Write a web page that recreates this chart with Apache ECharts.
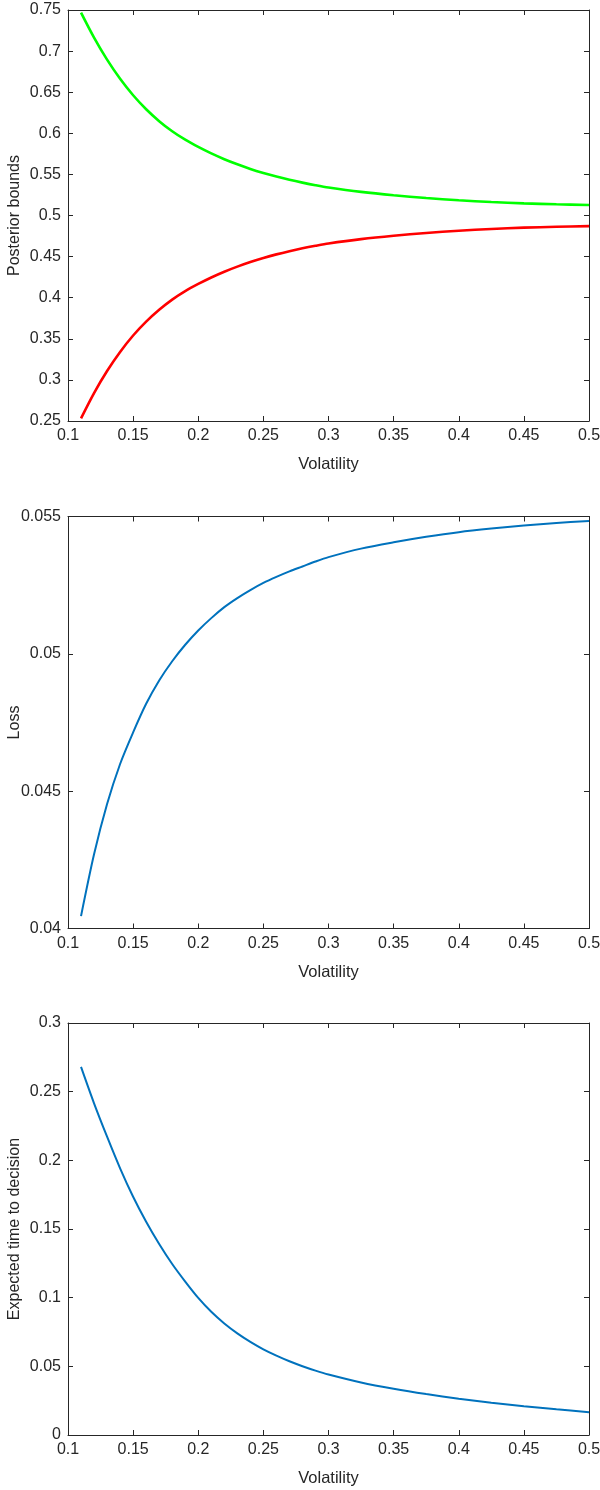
<!DOCTYPE html>
<html>
<head>
<meta charset="utf-8">
<script src="https://cdn.jsdelivr.net/npm/echarts@6/dist/echarts.min.js"></script>
<style>html,body{margin:0;padding:0;background:#fff;}#c{width:600px;height:1490px;}</style>
</head>
<body>
<div id="c"></div>
<script>
const volatility = [0.11,0.12,0.13,0.14,0.15,0.16,0.17,0.18,0.19,0.20,0.21,0.22,0.23,0.24,0.25,0.26,0.27,0.28,0.29,0.30,0.325,0.35,0.375,0.40,0.425,0.45,0.475,0.50];
const upperBound = [0.7468,0.7164,0.6896,0.6663,0.6463,0.6293,0.6148,0.6025,0.5922,0.5834,0.5755,0.5685,0.5623,0.5567,0.5518,0.5474,0.5435,0.5400,0.5368,0.5340,0.5287,0.5246,0.5213,0.5185,0.5164,0.5148,0.5136,0.5128];
const lowerBound = [0.2532,0.2840,0.3108,0.3340,0.3540,0.3709,0.3853,0.3977,0.4080,0.4167,0.4246,0.4316,0.4378,0.4434,0.4483,0.4527,0.4566,0.4601,0.4632,0.4660,0.4713,0.4754,0.4787,0.4815,0.4836,0.4852,0.4863,0.4871];
const loss = [0.04045,0.0427,0.04453,0.04599,0.04714,0.04818,0.04903,0.04973,0.05033,0.05085,0.0513,0.0517,0.05203,0.05232,0.05258,0.0528,0.053,0.05318,0.05336,0.05352,0.05383,0.05406,0.05426,0.05443,0.05456,0.05467,0.05476,0.05484];
const timeToDecision = [0.268,0.2415,0.2172,0.1942,0.1735,0.1553,0.1391,0.1245,0.1117,0.0998,0.0897,0.0812,0.0740,0.0678,0.0624,0.0578,0.0537,0.0501,0.0469,0.0441,0.0383,0.0337,0.0298,0.0264,0.0235,0.0210,0.0187,0.0166];
const xTicks = {min:0.1, max:0.5, interval:0.05};
const yLabels = ['Posterior bounds','Loss','Expected time to decision'];
const xLabel = 'Volatility';

const pairs = arr => volatility.map((v,i)=>[v,arr[i]]);
const axisCol = '#262626';
const FF = 'Liberation Sans, Arial, sans-serif';
const tickFont = {fontFamily:FF, fontSize:16, color:axisCol};
const grids = [
  {left:68, right:11, top:10, height:411, containLabel:false, outerBoundsMode:'none'},
  {left:68, right:11, top:516.5, height:412, containLabel:false, outerBoundsMode:'none'},
  {left:68, right:11, top:1023, height:412, containLabel:false, outerBoundsMode:'none'}
];
const yRanges = [
  {min:0.25, max:0.75, interval:0.05},
  {min:0.04, max:0.055, interval:0.005},
  {min:0, max:0.3, interval:0.05}
];
const xAxes = [], yAxes = [];
grids.forEach((g,i)=>{
  xAxes.push({type:'value', gridIndex:i, position:'bottom', min:xTicks.min, max:xTicks.max, interval:xTicks.interval,
    name:xLabel, nameLocation:'middle', nameGap:35, nameMoveOverlap:false,
    nameTextStyle:{fontFamily:FF, fontSize:16.5, color:axisCol},
    axisLine:{show:true, onZero:false, lineStyle:{color:axisCol, width:1}},
    axisTick:{show:true, inside:true, length:5, lineStyle:{color:axisCol}},
    axisLabel:Object.assign({margin:7, hideOverlap:false, formatter:v=>String(+v.toFixed(2))}, tickFont),
    splitLine:{show:false}});
  xAxes.push({type:'value', gridIndex:i, position:'top', min:xTicks.min, max:xTicks.max, interval:xTicks.interval,
    axisLine:{show:true, onZero:false, lineStyle:{color:axisCol, width:1}},
    axisTick:{show:true, inside:true, length:5, lineStyle:{color:axisCol}},
    axisLabel:{show:false}, splitLine:{show:false}});
  yAxes.push({type:'value', gridIndex:i, position:'left', min:yRanges[i].min, max:yRanges[i].max, interval:yRanges[i].interval,
    name:yLabels[i], nameLocation:'middle', nameGap:45, nameRotate:90, nameMoveOverlap:false,
    nameTextStyle:{fontFamily:FF, fontSize:16, color:axisCol},
    axisLine:{show:true, onZero:false, lineStyle:{color:axisCol, width:1}},
    axisTick:{show:true, inside:true, length:5, lineStyle:{color:axisCol}},
    axisLabel:Object.assign({margin:7, hideOverlap:false, formatter:v=>String(+v.toFixed(3))}, tickFont),
    splitLine:{show:false}});
  yAxes.push({type:'value', gridIndex:i, position:'right', min:yRanges[i].min, max:yRanges[i].max, interval:yRanges[i].interval,
    axisLine:{show:true, onZero:false, lineStyle:{color:axisCol, width:1}},
    axisTick:{show:true, inside:true, length:5, lineStyle:{color:axisCol}},
    axisLabel:{show:false}, splitLine:{show:false}});
});
const mk = (data, xi, yi, color, w) => ({type:'line', xAxisIndex:xi, yAxisIndex:yi, data:pairs(data),
  smooth:0.3, showSymbol:false, symbol:'none', lineStyle:{color:color, width:w}, silent:true, animation:false});
const chart = echarts.init(document.getElementById('c'), null, {renderer:'canvas'});
chart.setOption({
  animation:false,
  backgroundColor:'#ffffff',
  grid:grids,
  xAxis:xAxes,
  yAxis:yAxes,
  series:[
    mk(upperBound,0,0,'#00ff00',2.6),
    mk(lowerBound,0,0,'#ff0000',2.6),
    mk(loss,2,2,'#0072bd',2),
    mk(timeToDecision,4,4,'#0072bd',2)
  ]
});
</script>
</body>
</html>
